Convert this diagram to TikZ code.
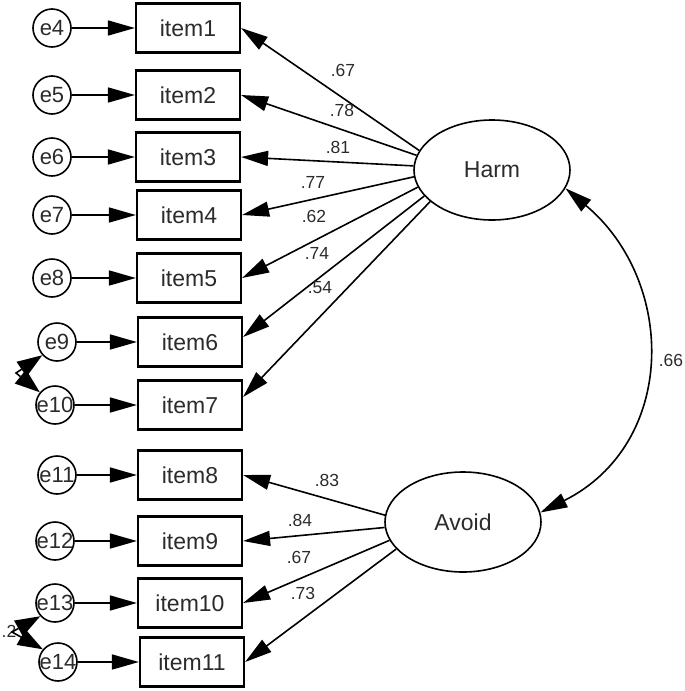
\documentclass[tikz,border=0pt]{standalone}
\usepackage{fontspec}
\setmainfont{Liberation Sans}
\usetikzlibrary{arrows.meta,shapes.geometric,calc}
\definecolor{txt}{HTML}{2B2B2B}
\begin{document}
\begin{tikzpicture}[x=1pt,y=1pt,
  itembox/.style={draw, line width=2.2pt, minimum width=104pt, minimum height=49pt, inner sep=0pt, text=txt, font=\fontsize{23}{23}\selectfont},
  errc/.style={draw, circle, line width=1.6pt, minimum size=38pt, inner sep=0pt},
  errlbl/.style={text=txt, font=\fontsize{22}{22}\selectfont, inner sep=0pt},
  latent/.style={draw, ellipse, line width=1.6pt, minimum width=156pt, minimum height=100pt, inner sep=0pt, text=txt, font=\fontsize{23}{23}\selectfont},
  regarrow/.style={line width=1.6pt, -{Triangle[length=27pt,width=15pt]}},
  covarrow/.style={line width=1.6pt, {Triangle[length=27pt,width=15pt]}-{Triangle[length=27pt,width=15pt]}},
  covline/.style={line width=1.6pt},
  coef/.style={text=txt, font=\fontsize{17.5}{17.5}\selectfont, inner sep=0pt}
]
\useasboundingbox (0,0) rectangle (685,-691);

% observed items
\node[itembox] (item1) at (188,-28) {item1};
\node[itembox] (item2) at (188,-95) {item2};
\node[itembox] (item3) at (188,-157) {item3};
\node[itembox] (item4) at (189,-215) {item4};
\node[itembox] (item5) at (189,-278) {item5};
\node[itembox] (item6) at (190,-342) {item6};
\node[itembox] (item7) at (190,-405) {item7};
\node[itembox] (item8) at (190,-475) {item8};
\node[itembox] (item9) at (190,-541) {item9};
\node[itembox] (item10) at (190,-603) {item10};
\node[itembox] (item11) at (192,-662) {item11};

% error terms
\node[errc] (e4) at (52,-28) {};
\node[errc] (e5) at (52,-95) {};
\node[errc] (e6) at (52,-157) {};
\node[errc] (e7) at (52,-215) {};
\node[errc] (e8) at (52,-278) {};
\node[errc] (e9) at (57,-342) {};
\node[errc] (e10) at (55,-405) {};
\node[errc] (e11) at (57,-475) {};
\node[errc] (e12) at (55,-541) {};
\node[errc] (e13) at (55,-603) {};
\node[errc] (e14) at (58,-662) {};
\node[errlbl] (le4) at (e4) {e4};
\node[errlbl] (le5) at (e5) {e5};
\node[errlbl] (le6) at (e6) {e6};
\node[errlbl] (le7) at (e7) {e7};
\node[errlbl] (le8) at (e8) {e8};
\node[errlbl] (le9) at (e9) {e9};
\node[errlbl] (le10) at (e10) {e10};
\node[errlbl] (le11) at (e11) {e11};
\node[errlbl] (le12) at (e12) {e12};
\node[errlbl] (le13) at (e13) {e13};
\node[errlbl] (le14) at (e14) {e14};

% latent factors
\node[latent] (Harm) at (492,-170) {Harm};
\node[latent] (Avoid) at (463,-522) {Avoid};

% error paths
\draw[regarrow] (e4) -- (item1);
\draw[regarrow] (e5) -- (item2);
\draw[regarrow] (e6) -- (item3);
\draw[regarrow] (e7) -- (item4);
\draw[regarrow] (e8) -- (item5);
\draw[regarrow] (e9) -- (item6);
\draw[regarrow] (e10) -- (item7);
\draw[regarrow] (e11) -- (item8);
\draw[regarrow] (e12) -- (item9);
\draw[regarrow] (e13) -- (item10);
\draw[regarrow] (e14) -- (item11);

% loadings
\draw[regarrow] (Harm.165) -- (item1.east);
\draw[regarrow] (Harm.169) -- (item2.east);
\draw[regarrow] (Harm.177) -- (item3.east);
\draw[regarrow] (Harm.185) -- (item4.east);
\draw[regarrow] (Harm.193) -- (item5.east);
\draw[regarrow] (Harm.201) -- ([yshift=5pt]item6.east);
\draw[regarrow] (Harm.207) -- ([yshift=8pt]item7.east);
\draw[regarrow] (Avoid.175) -- (item8.east);
\draw[regarrow] (Avoid.184) -- (item9.east);
\draw[regarrow] (Avoid.194) -- (item10.east);
\draw[regarrow] (Avoid.202) -- (item11.east);

\node[coef] (c1) at (343,-70) {.67};
\node[coef] (c2) at (342,-110) {.78};
\node[coef] (c3) at (338,-147) {.81};
\node[coef] (c4) at (313,-182) {.77};
\node[coef] (c5) at (314,-216) {.62};
\node[coef] (c6) at (317,-253) {.74};
\node[coef] (c7) at (320,-288) {.54};
\node[coef] (c8) at (327,-480) {.83};
\node[coef] (c9) at (300,-520) {.84};
\node[coef] (c10) at (299,-557) {.67};
\node[coef] (c11) at (303,-593) {.73};

% factor covariance
\draw[covarrow] (Harm.346) .. controls (677,-282) and (677,-444) .. (Avoid.7);
\node[coef] (c66) at (671,-360) {.66};

% error covariances (short arcs hidden under their large heads)
\node[coef] (c28) at (9,-631) {.2};
\coordinate (m910) at (16,-373);
\coordinate (m1314) at (12,-632);
\coordinate (t9) at (e9.222);
\coordinate (t10) at (e10.140);
\coordinate (t13) at (e13.222);
\coordinate (t14) at (e14.140);
\coordinate (b9) at ($(t9)!25pt!(m910)$);
\coordinate (b10) at ($(t10)!25pt!(m910)$);
\coordinate (b13) at ($(t13)!25pt!(m1314)$);
\coordinate (b14) at ($(t14)!25pt!(m1314)$);
\draw[covline] (b9) -- (m910) -- (b10);
\draw[covline] (b13) -- (m1314) -- (b14);
\fill ($(b9)!9pt!90:(t9)$) -- (t9) -- ($(b9)!9pt!-90:(t9)$) -- cycle;
\fill ($(b10)!9pt!90:(t10)$) -- (t10) -- ($(b10)!9pt!-90:(t10)$) -- cycle;
\fill ($(b13)!9pt!90:(t13)$) -- (t13) -- ($(b13)!9pt!-90:(t13)$) -- cycle;
\fill ($(b14)!9pt!90:(t14)$) -- (t14) -- ($(b14)!9pt!-90:(t14)$) -- cycle;
\end{tikzpicture}
\end{document}
